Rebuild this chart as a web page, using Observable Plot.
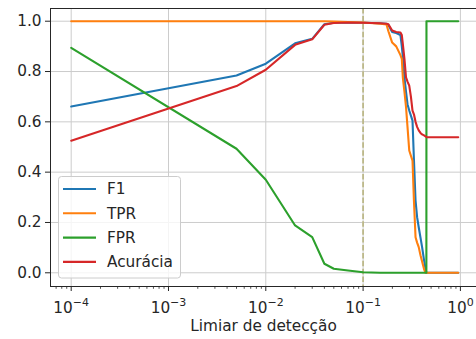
<!DOCTYPE html>
<html>
<head>
<meta charset="utf-8">
<script src="https://cdn.jsdelivr.net/npm/d3@7"></script>
<script src="https://cdn.jsdelivr.net/npm/@observablehq/plot@0.6"></script>
<style>
  html, body { margin: 0; padding: 0; background: #fff; }
  svg { display: block; }
</style>
</head>
<body>
<div id="chart"></div>
<script>
// ---- data ----
const thresholds = [1e-4, 5e-3, 0.01, 0.02, 0.03, 0.04, 0.05, 0.07, 0.1, 0.15,
  0.174, 0.182, 0.199, 0.219, 0.242, 0.250, 0.256, 0.266, 0.276, 0.286,
  0.298, 0.310, 0.322, 0.333, 0.346, 0.359, 0.373, 0.389, 0.404, 0.423,
  0.438, 0.447, 0.448, 0.95];

const f1 = [0.661, 0.784, 0.831, 0.912, 0.930, 0.988, 0.994, 0.995, 0.994, 0.992,
  0.990, 0.985, 0.957, 0.953, 0.945, 0.90, 0.86, 0.777, 0.72, 0.67,
  0.645, 0.625, 0.605, 0.45, 0.287, 0.221, 0.181, 0.14, 0.102, 0.05,
  0.015, 0, 0, 0];

const tpr = [1, 1, 1, 1, 1, 1, 0.999, 0.997, 0.995, 0.990,
  0.987, 0.96, 0.915, 0.90, 0.865, 0.85, 0.777, 0.72, 0.66, 0.58,
  0.486, 0.465, 0.446, 0.287, 0.141, 0.12, 0.102, 0.07, 0.045, 0.015,
  0, 0, 0, 0];

const fpr = [0.894, 0.493, 0.370, 0.188, 0.142, 0.036, 0.016, 0.009, 0.002, 0,
  0, 0, 0, 0, 0, 0, 0, 0, 0, 0,
  0, 0, 0, 0, 0, 0, 0, 0, 0, 0,
  0, 0, 1, 1];

const acuracia = [0.525, 0.742, 0.807, 0.906, 0.928, 0.986, 0.993, 0.995, 0.994, 0.992,
  0.990, 0.988, 0.963, 0.957, 0.955, 0.945, 0.91, 0.85, 0.777, 0.76,
  0.744, 0.70, 0.645, 0.63, 0.60, 0.58, 0.566, 0.556, 0.550, 0.546,
  0.542, 0.540, 0.539, 0.539];

const seriesNames = ["F1", "TPR", "FPR", "Acurácia"];
const seriesValues = [f1, tpr, fpr, acuracia];
const seriesColors = ["#1f77b4", "#ff7f0e", "#2ca02c", "#d62728"];

const markerThreshold = [0.1];
const xMajorTicks = [1e-4, 1e-3, 1e-2, 1e-1, 1e0];
const xMinorTicks = [];
for (let e = -5; e <= -1; e++) for (let m = 2; m <= 9; m++) {
  const v = m * Math.pow(10, e);
  if (v > 6.2e-5 && v < 1.4) xMinorTicks.push(v);
}
const yTicks = [0, 0.2, 0.4, 0.6, 0.8, 1.0];
const xLabel = "Limiar de detecção";

// ---- chart ----
const xDomain = [Math.pow(10, -4.2127), Math.pow(10, 0.1655)];
const yDomain = [-0.0545, 1.0505];
const ink = "#262626";
const fs = 15.3;

const lineMarks = seriesValues.map((vals, k) =>
  Plot.line(thresholds, {x: d => d, y: (d, i) => vals[i], stroke: seriesColors[k], strokeWidth: 2.1})
);

const chart = Plot.plot({
  width: 476,
  height: 339,
  marginLeft: 50,
  marginRight: 0,
  marginTop: 8,
  marginBottom: 53,
  style: {fontFamily: "'DejaVu Sans', sans-serif", fontSize: fs + "px", color: ink, background: "#fff"},
  x: {type: "log", domain: xDomain, label: null},
  y: {domain: yDomain, label: null},
  marks: [
    Plot.gridX(xMajorTicks, {stroke: "#cccccc", strokeOpacity: 1, strokeWidth: 1}),
    Plot.gridY(yTicks, {stroke: "#cccccc", strokeOpacity: 1, strokeWidth: 1}),
    Plot.ruleX(markerThreshold, {stroke: "#bdb98a", strokeWidth: 1.8, strokeDasharray: "5.5,2.4"}),
    ...lineMarks,
    Plot.ruleX([xDomain[0]], {stroke: ink, strokeWidth: 1}),
    Plot.ruleY([yDomain[0], yDomain[1]], {stroke: ink, strokeWidth: 1}),
    Plot.axisX(xMinorTicks, {tickSize: 2.8, strokeWidth: 0.8, tickFormat: () => "", label: null}),
    Plot.axisX(xMajorTicks, {tickSize: 5, strokeWidth: 1, tickPadding: 10.6, fontSize: fs,
      tickFormat: d => "10|" + Math.round(Math.log10(d)), label: null}),
    Plot.axisY(yTicks, {tickSize: 5, strokeWidth: 1, tickPadding: 4, fontSize: fs,
      tickFormat: d3.format(".1f"), label: null}),
    Plot.text([xLabel], {frameAnchor: "bottom", dy: 44.6, fontSize: fs, fill: ink})
  ]
});

document.getElementById("chart").appendChild(chart);

// superscript exponents on the log ticks
d3.select(chart).selectAll('g[aria-label="x-axis tick label"] text').each(function () {
  const s = this.textContent;
  if (!s.includes("|")) return;
  const [b, e] = s.split("|");
  const sel = d3.select(this);
  sel.text(null);
  sel.append("tspan").text(b);
  sel.append("tspan").attr("dy", "-6.5").attr("font-size", "11").text(e.replace("-", "\u2212"));
});

// legend (lower left, inside the axes)
const lg = d3.select(chart).append("g")
  .attr("font-family", "'DejaVu Sans', sans-serif").attr("font-size", fs).attr("text-anchor", "start");
lg.append("rect").attr("x", 58.5).attr("y", 176.5).attr("width", 122).attr("height", 101.5)
  .attr("rx", 3).attr("fill", "#fff").attr("fill-opacity", 0.8).attr("stroke", "#cccccc");
const rowY = [189, 213.3, 237.6, 261.9];
seriesNames.forEach((name, k) => {
  lg.append("line").attr("x1", 63).attr("x2", 96).attr("y1", rowY[k]).attr("y2", rowY[k])
    .attr("stroke", seriesColors[k]).attr("stroke-width", 2.1);
  lg.append("text").attr("x", 107).attr("y", rowY[k] + 5.4).attr("fill", ink)
    .attr("text-anchor", "start").text(name);
});
</script>
</body>
</html>
